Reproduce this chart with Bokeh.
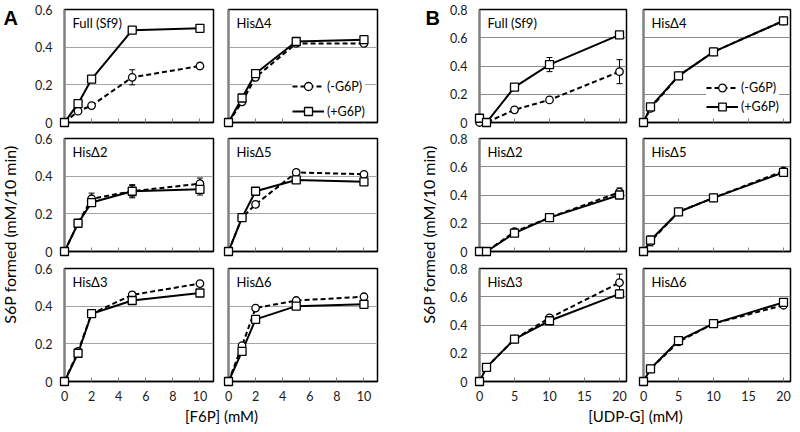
import math
from bokeh.plotting import figure
from bokeh.models import (Range1d, FixedTicker, Label, Legend, LegendItem,
                          Whisker, ColumnDataSource, TeeHead)
from bokeh.layouts import row, column
from bokeh.embed import file_html
from bokeh.resources import INLINE

# ---------------- data ----------------
x_f6p = [0, 1, 2, 5, 10]
x_udpg = [0, 1, 5, 10, 20]
f6p_ticks = [0, 2, 4, 6, 8, 10]
f6p_ticklabels = ["0", "2", "4", "6", "8", "10"]
udpg_ticks = [0, 5, 10, 15, 20]
udpg_ticklabels = ["0", "5", "10", "15", "20"]
yticks_A = [0, 0.2, 0.4, 0.6]
yticklabels_A = ["0", "0.2", "0.4", "0.6"]
yticks_B = [0, 0.2, 0.4, 0.6, 0.8]
yticklabels_B = ["0", "0.2", "0.4", "0.6", "0.8"]
subplot_names = ["Full (Sf9)", "HisΔ4", "HisΔ2", "HisΔ5", "HisΔ3", "HisΔ6"]
legend_labels = ["(-G6P)", "(+G6P)"]
panel_letters = ["A", "B"]
y_title = "S6P formed (mM/10 min)"
x_title_A = "[F6P] (mM)"
x_title_B = "[UDP-G] (mM)"

# Panel A: S6P formed vs [F6P]  (-G6P circles dashed, +G6P squares solid)
A_full_minus = [0, 0.06, 0.09, 0.24, 0.30]
A_full_minus_err = [0, 0, 0, 0.04, 0.015]
A_full_plus = [0, 0.10, 0.23, 0.49, 0.50]
A_full_plus_err = [0, 0.015, 0, 0, 0]
A_d4_minus = [0, 0.11, 0.24, 0.42, 0.42]
A_d4_minus_err = [0, 0, 0, 0, 0]
A_d4_plus = [0, 0.13, 0.26, 0.43, 0.44]
A_d4_plus_err = [0, 0, 0, 0.01, 0.01]
A_d2_minus = [0, 0.15, 0.28, 0.32, 0.36]
A_d2_minus_err = [0, 0, 0.03, 0.035, 0.03]
A_d2_plus = [0, 0.15, 0.26, 0.32, 0.33]
A_d2_plus_err = [0, 0, 0.02, 0.03, 0.03]
A_d5_minus = [0, 0.18, 0.25, 0.42, 0.41]
A_d5_minus_err = [0, 0, 0, 0, 0]
A_d5_plus = [0, 0.18, 0.32, 0.38, 0.37]
A_d5_plus_err = [0, 0, 0, 0, 0]
A_d3_minus = [0, 0.16, 0.36, 0.46, 0.52]
A_d3_minus_err = [0, 0, 0, 0.015, 0]
A_d3_plus = [0, 0.15, 0.36, 0.43, 0.47]
A_d3_plus_err = [0, 0, 0, 0, 0]
A_d6_minus = [0, 0.19, 0.39, 0.43, 0.45]
A_d6_minus_err = [0, 0, 0, 0, 0]
A_d6_plus = [0, 0.16, 0.33, 0.40, 0.41]
A_d6_plus_err = [0, 0, 0, 0, 0]

# Panel B: S6P formed vs [UDP-G]
B_full_minus = [0.0, 0.0, 0.09, 0.16, 0.36]
B_full_minus_err = [0.03, 0, 0, 0, 0.085]
B_full_plus = [0.03, 0.0, 0.25, 0.41, 0.62]
B_full_plus_err = [0, 0, 0, 0.05, 0]
B_d4_minus = [0, 0.10, 0.33, 0.50, 0.72]
B_d4_minus_err = [0, 0, 0, 0, 0]
B_d4_plus = [0, 0.11, 0.33, 0.50, 0.72]
B_d4_plus_err = [0, 0, 0, 0.02, 0]
B_d2_minus = [0, 0, 0.14, 0.24, 0.42]
B_d2_minus_err = [0.02, 0, 0, 0, 0.03]
B_d2_plus = [0, 0, 0.13, 0.24, 0.40]
B_d2_plus_err = [0, 0, 0, 0, 0]
B_d5_minus = [0, 0.07, 0.28, 0.38, 0.57]
B_d5_minus_err = [0, 0.03, 0, 0, 0]
B_d5_plus = [0, 0.08, 0.28, 0.38, 0.56]
B_d5_plus_err = [0, 0.03, 0, 0, 0]
B_d3_minus = [0, 0.10, 0.30, 0.45, 0.70]
B_d3_minus_err = [0, 0, 0, 0, 0.06]
B_d3_plus = [0, 0.10, 0.30, 0.43, 0.62]
B_d3_plus_err = [0, 0, 0, 0, 0.03]
B_d6_minus = [0, 0.09, 0.28, 0.41, 0.54]
B_d6_minus_err = [0, 0, 0, 0, 0]
B_d6_plus = [0, 0.09, 0.29, 0.41, 0.56]
B_d6_plus_err = [0, 0, 0, 0, 0]

panelA = [
    (A_full_minus, A_full_minus_err, A_full_plus, A_full_plus_err),
    (A_d4_minus, A_d4_minus_err, A_d4_plus, A_d4_plus_err),
    (A_d2_minus, A_d2_minus_err, A_d2_plus, A_d2_plus_err),
    (A_d5_minus, A_d5_minus_err, A_d5_plus, A_d5_plus_err),
    (A_d3_minus, A_d3_minus_err, A_d3_plus, A_d3_plus_err),
    (A_d6_minus, A_d6_minus_err, A_d6_plus, A_d6_plus_err),
]
panelB = [
    (B_full_minus, B_full_minus_err, B_full_plus, B_full_plus_err),
    (B_d4_minus, B_d4_minus_err, B_d4_plus, B_d4_plus_err),
    (B_d2_minus, B_d2_minus_err, B_d2_plus, B_d2_plus_err),
    (B_d5_minus, B_d5_minus_err, B_d5_plus, B_d5_plus_err),
    (B_d3_minus, B_d3_minus_err, B_d3_plus, B_d3_plus_err),
    (B_d6_minus, B_d6_minus_err, B_d6_plus, B_d6_plus_err),
]

# ---------------- styling / layout ----------------
FONT = "Lato"
FH = 113
BT = [9, 8, 9]
BB = [8, 8, 26]
STRIP_H = 17
TOTAL_H = 424

cfgA = dict(x=x_f6p, xr=(0, 11), yr=(0, 0.6), xticks=f6p_ticks, xlabels=f6p_ticklabels,
            yticks=yticks_A, ylabels=yticklabels_A, grid=[0.2, 0.4], gridc="#a6a6a6",
            fw=[149, 149], bl=[44, 8], br=[7, 41], ystand=12,
            leg_loc=(64, 1), leg_h=20, leg_sp=5)
cfgB = dict(x=x_udpg, xr=(0, 21), yr=(0, 0.8), xticks=udpg_ticks, xlabels=udpg_ticklabels,
            yticks=yticks_B, ylabels=yticklabels_B, grid=[0.2, 0.4, 0.6], gridc="#8c8c8c",
            fw=[147, 147], bl=[32, 9], br=[8, 2], ystand=12,
            leg_loc=(63, 6), leg_h=19, leg_sp=0)


def add_err(p, x, y, e):
    xs = [xi for xi, ei in zip(x, e) if ei > 0]
    if not xs:
        return
    lo = [yi - ei for yi, ei in zip(y, e) if ei > 0]
    hi = [yi + ei for yi, ei in zip(y, e) if ei > 0]
    src = ColumnDataSource(dict(x=xs, lo=lo, hi=hi))
    w = Whisker(source=src, base="x", lower="lo", upper="hi",
                line_color="black", line_width=1,
                upper_head=TeeHead(size=6, line_color="black", line_width=1),
                lower_head=TeeHead(size=6, line_color="black", line_width=1))
    p.add_layout(w)


def hide_labels(ax, ticks):
    ax.major_label_text_font_size = "0px"
    ax.major_label_standoff = 0
    ax.major_label_overrides = {t: "" for t in ticks}


def make_sub(name, data, cfg, c, r):
    ym, em, yp, ep = data
    x = cfg["x"]
    p = figure(frame_width=cfg["fw"][c], frame_height=FH,
               x_range=Range1d(*cfg["xr"]), y_range=Range1d(*cfg["yr"]),
               x_axis_location="below", y_axis_location="left",
               min_border_left=cfg["bl"][c], min_border_right=cfg["br"][c],
               min_border_top=BT[r], min_border_bottom=BB[r],
               toolbar_location=None, output_backend="svg")
    p.outline_line_color = "black"
    p.outline_line_width = 1.5
    p.xgrid.visible = False
    p.ygrid.ticker = FixedTicker(ticks=cfg["grid"])
    p.ygrid.grid_line_color = cfg["gridc"]
    p.ygrid.grid_line_width = 1

    xa = p.xaxis[0]
    xa.ticker = FixedTicker(ticks=cfg["xticks"])
    xa.major_tick_in = 4
    xa.major_tick_out = 0
    xa.minor_tick_line_color = None
    xa.major_tick_line_color = "#7f7f7f"
    xa.axis_line_color = "black"
    xa.axis_line_width = 1.5
    if r == 2:
        xa.major_label_overrides = dict(zip(cfg["xticks"], cfg["xlabels"]))
        xa.major_label_text_font = FONT
        xa.major_label_text_font_size = "12.5px"
        xa.major_label_text_color = "#1a1a1a"
        xa.major_label_standoff = 9
    else:
        hide_labels(xa, cfg["xticks"])

    ya = p.yaxis[0]
    ya.ticker = FixedTicker(ticks=cfg["yticks"])
    ya.major_tick_in = 0
    ya.major_tick_out = 0
    ya.minor_tick_line_color = None
    ya.major_tick_line_color = None
    ya.axis_line_color = "#808080"
    ya.axis_line_width = 2
    if c == 0:
        ya.major_label_overrides = dict(zip(cfg["yticks"], cfg["ylabels"]))
        ya.major_label_text_font = FONT
        ya.major_label_text_font_size = "12.5px"
        ya.major_label_text_color = "#1a1a1a"
        ya.major_label_standoff = cfg["ystand"]
    else:
        hide_labels(ya, cfg["yticks"])

    add_err(p, x, ym, em)
    add_err(p, x, yp, ep)
    lm = p.line(x, ym, line_color="black", line_width=2, line_dash="5 3")
    lp = p.line(x, yp, line_color="black", line_width=2)
    sm = p.scatter(x, ym, marker="circle", size=7.5, fill_color="white",
                   line_color="black", line_width=1.3, level="overlay")
    sp = p.scatter(x, yp, marker="square", size=8, fill_color="white",
                   line_color="black", line_width=1.3, level="overlay")

    p.add_layout(Label(x=cfg["xr"][0], y=cfg["yr"][1], x_offset=8, y_offset=-5,
                       text=name, text_baseline="top", text_font=FONT,
                       text_font_size="13px", text_color="black"))

    if r == 0 and c == 1:
        leg = Legend(items=[LegendItem(label=legend_labels[0], renderers=[lm, sm]),
                            LegendItem(label=legend_labels[1], renderers=[lp, sp])],
                     location=cfg["leg_loc"], orientation="vertical",
                     border_line_color=None, background_fill_color="white",
                     background_fill_alpha=1.0, padding=3, margin=0,
                     spacing=cfg["leg_sp"], glyph_width=32, glyph_height=cfg["leg_h"],
                     label_height=cfg["leg_h"], label_standoff=3,
                     label_text_font=FONT, label_text_font_size="12.5px",
                     label_text_color="black")
        p.add_layout(leg)
    return p


def strip(w, h):
    s = figure(frame_width=w, frame_height=h, x_range=Range1d(0, w), y_range=Range1d(0, h),
               x_axis_location=None, y_axis_location=None, min_border=0,
               toolbar_location=None, output_backend="svg")
    s.outline_line_color = None
    s.grid.visible = False
    return s


def build_panel(data, cfg):
    rows = []
    for r in range(3):
        pr = []
        for c in range(2):
            i = r * 2 + c
            pr.append(make_sub(subplot_names[i], data[i], cfg, c, r))
        rows.append(row(*pr, spacing=0))
    return rows


def col_width(cfg, c):
    return cfg["bl"][c] + cfg["fw"][c] + cfg["br"][c]


# Panel A
rowsA = build_panel(panelA, cfgA)
stripA = strip(col_width(cfgA, 0) + col_width(cfgA, 1), STRIP_H)
stripA.add_layout(Label(x=col_width(cfgA, 0) + 1, y=9, text=x_title_A,
                        text_align="center", text_baseline="middle", text_font=FONT,
                        text_font_size="15px", text_color="black"))
colA = column(*rowsA, stripA, spacing=0)

yA = strip(20, TOTAL_H)
yA.add_layout(Label(x=3, y=418, text=panel_letters[0], text_baseline="top",
                    text_font="Liberation Sans", text_font_style="bold",
                    text_font_size="20px", text_color="black"))
yA.add_layout(Label(x=9, y=190, text=y_title, angle=math.pi / 2, text_align="center",
                    text_baseline="middle", text_font=FONT, text_font_size="16px",
                    text_color="black"))

# Panel B
rowsB = build_panel(panelB, cfgB)
stripB = strip(col_width(cfgB, 0) + col_width(cfgB, 1), STRIP_H)
stripB.add_layout(Label(x=col_width(cfgB, 0) + 1, y=9, text=x_title_B,
                        text_align="center", text_baseline="middle", text_font=FONT,
                        text_font_size="15px", text_color="black"))
colB = column(*rowsB, stripB, spacing=0)

yB = strip(29, TOTAL_H)
yB.add_layout(Label(x=7, y=418, text=panel_letters[1], text_baseline="top",
                    text_font="Liberation Sans", text_font_style="bold",
                    text_font_size="20px", text_color="black"))
yB.add_layout(Label(x=10, y=190, text=y_title, angle=math.pi / 2, text_align="center",
                    text_baseline="middle", text_font=FONT, text_font_size="16px",
                    text_color="black"))

layout = row(yA, colA, yB, colB, spacing=0)

open("out.html", "w").write(file_html(layout, INLINE))
